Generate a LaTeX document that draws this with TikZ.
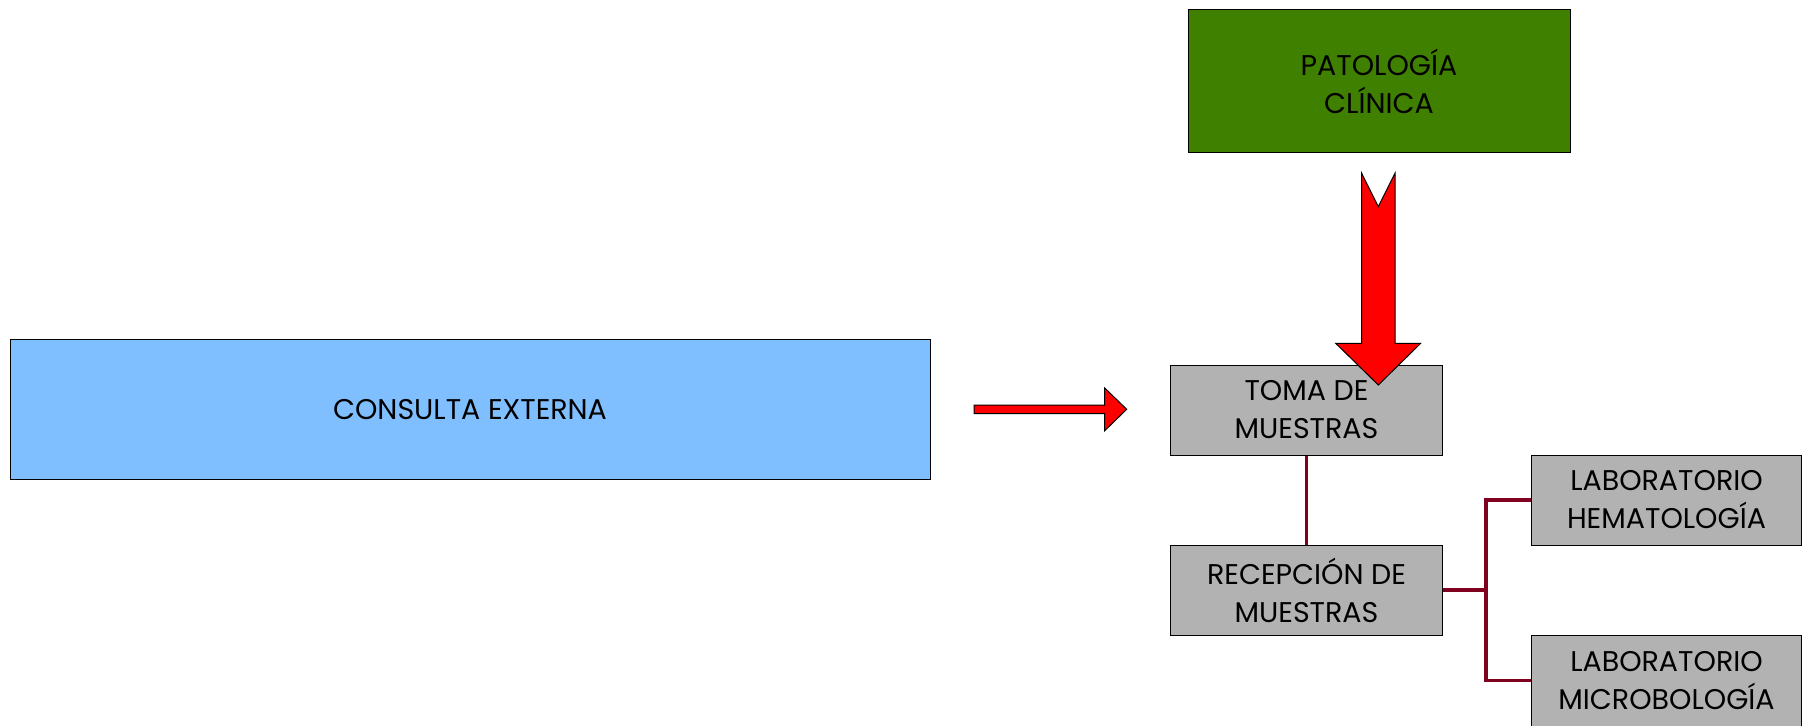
\documentclass[tikz,border=0pt]{standalone}
\usepackage{fontspec}
\setmainfont{Poppins}
\begin{document}
\begin{tikzpicture}[x=1pt, y=-1pt,
  box/.style={draw=black, line width=1pt, align=center, inner sep=0pt, font=\fontsize{28.5}{38}\selectfont},
  link/.style={draw={rgb,255:red,128;green,0;blue,32}, line width=3.5pt},
  blockarrow/.style={fill=red, draw=black, line width=1pt, line join=miter}]
\useasboundingbox (0,0) rectangle (1811,725);

\node[box, fill={rgb,255:red,128;green,191;blue,255}, minimum width=920, minimum height=140] at (470,409.5)(consulta) {CONSULTA EXTERNA};
\node[box, fill={rgb,255:red,64;green,128;blue,0}, minimum width=382, minimum height=142] at (1379,81)(patol) {PATOLOGÍA\\CLÍNICA};

\node[box, fill=black!30, minimum width=272, minimum height=90] at (1306.5,410)(toma) {TOMA DE\\MUESTRAS};
\node[box, fill=black!30, minimum width=272, minimum height=90] at (1306.5,590)(recep) {RECEPCIÓN DE\\MUESTRAS};
\node[box, fill=black!30, minimum width=270, minimum height=90] at (1666.5,500)(lab1) {LABORATORIO\\HEMATOLOGÍA};
\node[box, fill=black!30, minimum width=270, minimum height=91] at (1666.5,680.5)(lab2) {LABORATORIO\\MICROBOLOGÍA};

\coordinate (split) at (1486,590);
\draw[link] (toma.south) -- (recep.north);
\draw[link] (recep.east) -- (split);
\draw[link] (lab1.west) -| (split) |- (lab2.west);

\draw[blockarrow] (974,405) -- (1104.7,405) -- (1104.7,388) -- (1126.7,409.3) -- (1104.7,430.7) -- (1104.7,413.7) -- (974,413.7) -- cycle;
\draw[blockarrow] (1361.7,173.3) -- (1378.3,206.7) -- (1395,173.3) -- (1395,343.3) -- (1420.7,343.3) -- (1378.3,385) -- (1335.7,343.3) -- (1361.7,343.3) -- cycle;
\end{tikzpicture}
\end{document}
